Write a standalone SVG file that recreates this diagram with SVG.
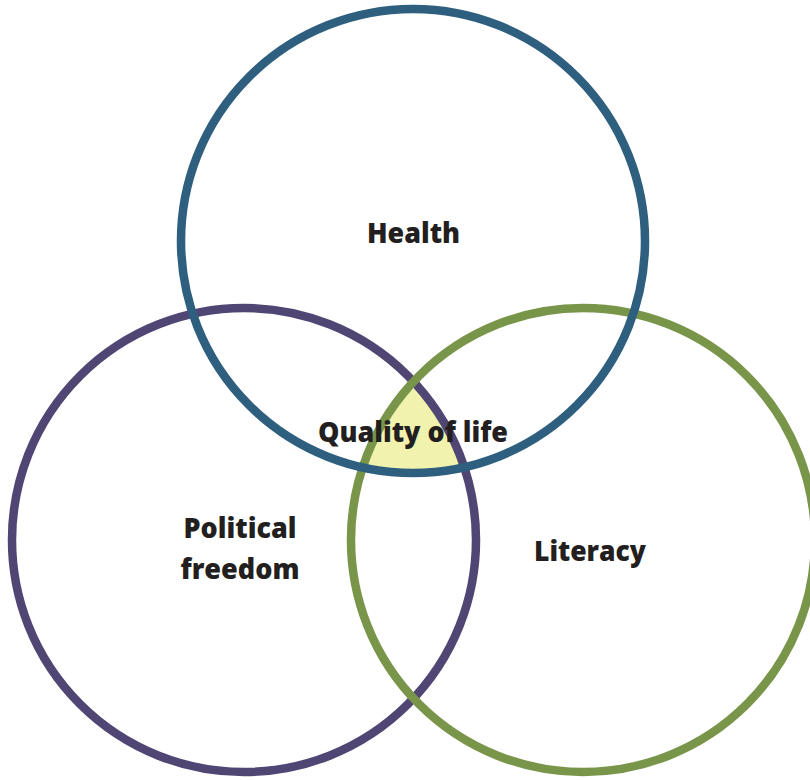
<svg xmlns="http://www.w3.org/2000/svg" width="810" height="780" viewBox="0 0 810 780">
<style>
.ring{fill:none;stroke-width:8.5}
.lbl{font-family:"Open Sans","Liberation Sans",sans-serif;font-weight:800;font-size:28.5px;fill:#231f20;text-anchor:middle}
</style>
<defs>
<clipPath id="cpPol"><circle cx="244" cy="540" r="232"/></clipPath>
<clipPath id="cpLit"><circle cx="583" cy="540" r="232"/></clipPath>
</defs>
<rect width="810" height="780" fill="#ffffff"/>
<g id="intersection" clip-path="url(#cpPol)">
<g clip-path="url(#cpLit)">
<circle cx="413" cy="241" r="232" fill="#f1f2ae"/>
</g>
</g>
<g id="political-freedom">
<circle class="ring" cx="244" cy="540" r="232" stroke="#4f4673"/>
</g>
<g id="literacy">
<circle class="ring" cx="583" cy="540" r="232" stroke="#79954a"/>
</g>
<g id="health">
<circle class="ring" cx="413" cy="241" r="232" stroke="#2f5f7f"/>
</g>
<g id="labels">
<text class="lbl" x="413.5" y="243" textLength="93" lengthAdjust="spacingAndGlyphs">Health</text>
<text class="lbl" x="413" y="442" textLength="190" lengthAdjust="spacingAndGlyphs">Quality of life</text>
<text class="lbl" x="240" y="538" textLength="113" lengthAdjust="spacingAndGlyphs">Political</text>
<text class="lbl" x="240" y="579" textLength="119" lengthAdjust="spacingAndGlyphs">freedom</text>
<text class="lbl" x="590" y="561" textLength="112" lengthAdjust="spacingAndGlyphs">Literacy</text>
</g>
</svg>
